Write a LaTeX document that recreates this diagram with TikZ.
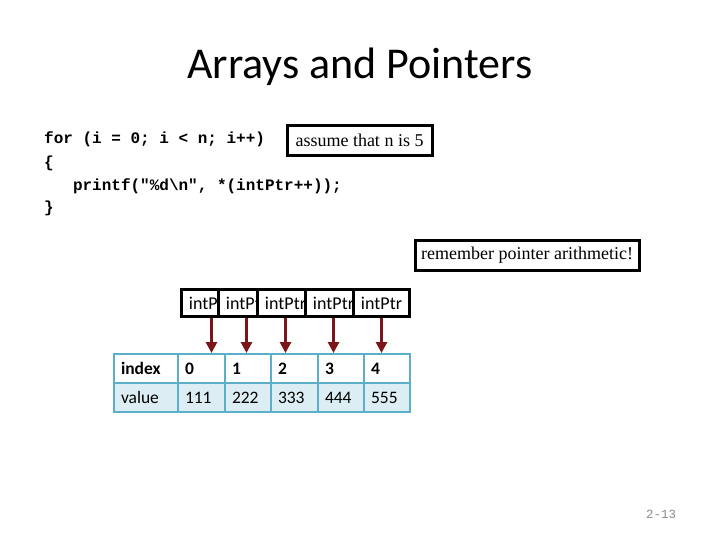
\documentclass[tikz,border=0pt]{standalone}
\usepackage{fontspec}
\setmainfont{Carlito}
\newfontfamily\codefont{Liberation Mono}
\newfontfamily\serfont{Liberation Serif}
\usetikzlibrary{arrows.meta}
\definecolor{tblline}{HTML}{5BAFC8}
\definecolor{tblfill}{HTML}{DCEEF4}
\definecolor{ptrred}{HTML}{7A1519}
\definecolor{pagegray}{HTML}{8C8C8C}
\tikzset{
  codeline/.style={anchor=west, inner sep=0pt, font=\codefont\bfseries\fontsize{16}{18}\selectfont},
  notebox/.style={draw=black, line width=3pt, fill=white, inner xsep=6pt, inner ysep=0pt,
     minimum height=30pt, font=\serfont\fontsize{18}{20}\selectfont},
  ptrbox/.style={draw=black, line width=3pt, fill=white, anchor=north west, inner sep=0pt,
     minimum width=56pt, minimum height=27pt, font=\fontsize{18}{20}\selectfont},
  ptrarrow/.style={draw=ptrred, line width=3pt, -{Triangle[width=11pt,length=11pt]}},
  cell/.style={draw=tblline, line width=2pt, anchor=north west, inner xsep=7pt, inner ysep=0pt,
     minimum height=29pt, text height=14pt, text depth=2pt, align=left,
     font=\fontsize{17.5}{19}\selectfont},
  hcell/.style={cell, fill=white, font=\bfseries\fontsize{17.5}{19}\selectfont},
  vcell/.style={cell, fill=tblfill},
}
\begin{document}
\begin{tikzpicture}[x=1pt, y=-1pt]
\useasboundingbox (0,0) rectangle (720,540);
% title
\node (title) at (360,67) {\fontsize{44}{48}\selectfont Arrays and Pointers};
% code
\node[codeline] (c1) at (44,139) {for (i = 0; i < n; i++)};
\node[codeline] (c2) at (44,163) {\{};
\node[codeline] (c3) at (44,186) {\ \ \ printf("\%d\textbackslash n", *(intPtr++));};
\node[codeline] (c4) at (44,208) {\}};
% note boxes
\node[notebox, minimum width=145pt] (n1) at (359.5,140.5) {assume that n is 5};
\node[notebox, minimum width=224pt] (n2) at (527,255) {remember pointer arithmetic!};
% table
\node[hcell, text width=50pt] (h0) at (113,353) {index};
\node[hcell, text width=33pt] (h1) at (177,353) {0};
\node[hcell, text width=32pt] (h2) at (224,353) {1};
\node[hcell, text width=33pt] (h3) at (270,353) {2};
\node[hcell, text width=32pt] (h4) at (317,353) {3};
\node[hcell, text width=32pt] (h5) at (363,353) {4};
\node[vcell, text width=50pt] (v0) at (113,382) {value};
\node[vcell, text width=33pt] (v1) at (177,382) {111};
\node[vcell, text width=32pt] (v2) at (224,382) {222};
\node[vcell, text width=33pt] (v3) at (270,382) {333};
\node[vcell, text width=32pt] (v4) at (317,382) {444};
\node[vcell, text width=32pt] (v5) at (363,382) {555};
% pointer boxes
\node[ptrbox] (p1) at (180,288) {intPtr};
\node[ptrbox] (p2) at (217,288) {intPtr};
\node[ptrbox] (p3) at (256,288) {intPtr};
\node[ptrbox] (p4) at (304,288) {intPtr};
\node[ptrbox] (p5) at (352,288) {intPtr};
% arrows
\draw[ptrarrow] ([xshift=2pt]p1.south) -- ([xshift=2pt]p1.south |- h1.north);
\draw[ptrarrow] (p2.south) -- (p2.south |- h2.north);
\draw[ptrarrow] (p3.south) -- (p3.south |- h3.north);
\draw[ptrarrow] (p4.south) -- (p4.south |- h4.north);
\draw[ptrarrow] (p5.south) -- (p5.south |- h5.north);
% page number
\node[text=pagegray, font=\codefont\fontsize{12.5}{14}\selectfont] (pg) at (661,514) {2-13};
\end{tikzpicture}
\end{document}
